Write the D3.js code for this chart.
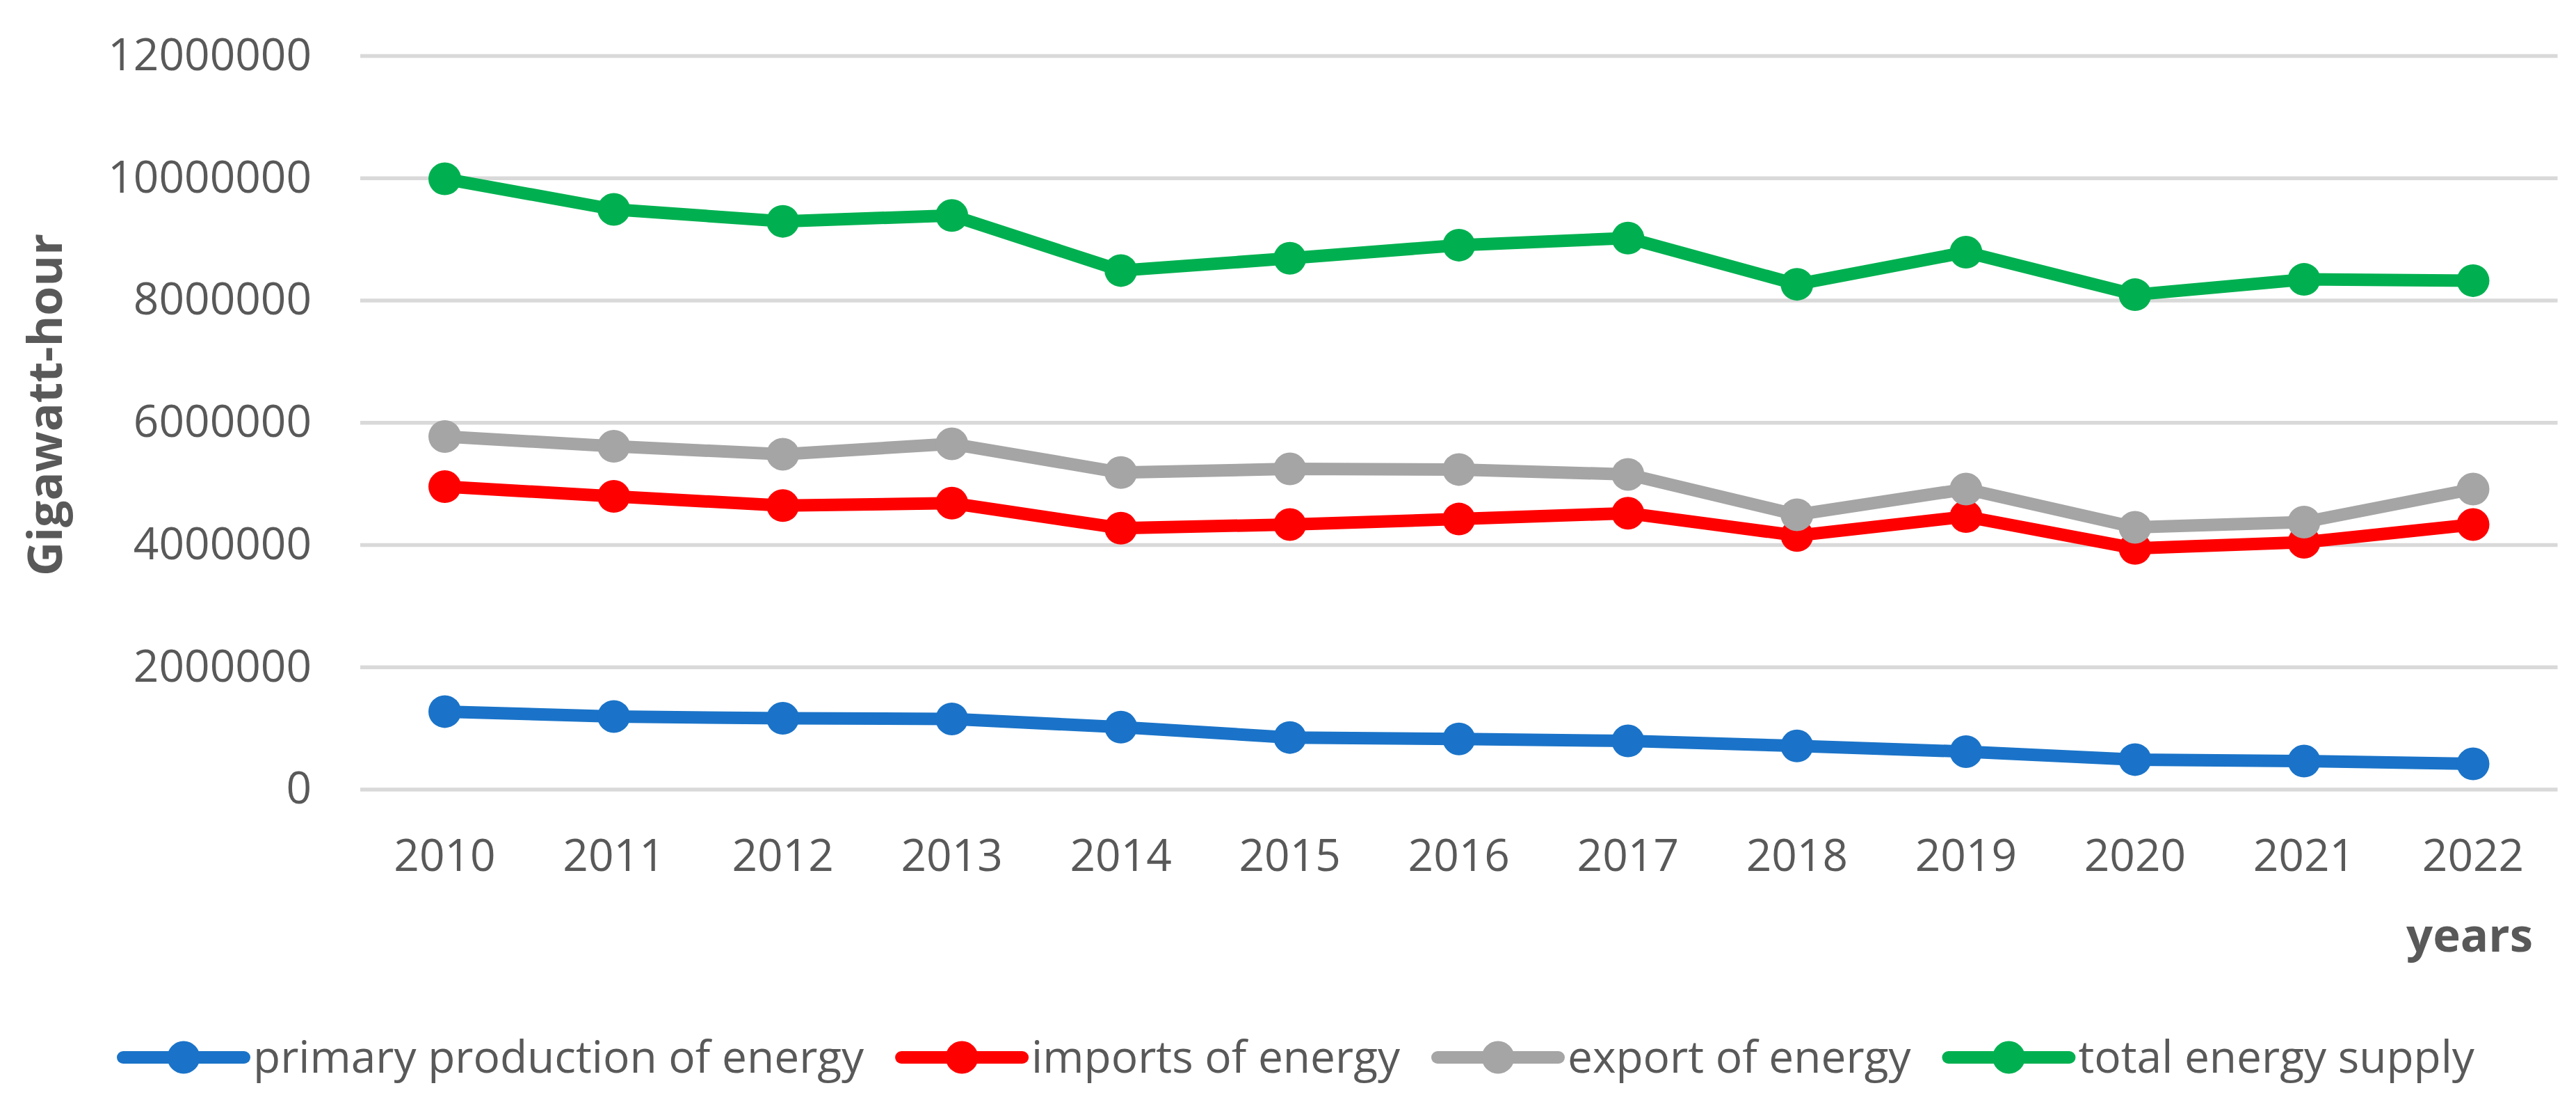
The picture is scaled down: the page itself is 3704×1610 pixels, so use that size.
<!DOCTYPE html>
<html>
<head>
<meta charset="utf-8">
<script src="https://cdn.jsdelivr.net/npm/d3@7"></script>
<style>
  body { margin: 0; background: white; }
  text { font-family: "Open Sans", "Noto Sans", sans-serif; fill: #595959; }
</style>
</head>
<body>
<div id="chart"></div>
<script>
// values
const years = ['2010','2011','2012','2013','2014','2015','2016','2017','2018','2019','2020','2021','2022'];
const primaryProduction = [1270000, 1190000, 1160000, 1150000, 1015000, 846000, 823000, 790000, 708000, 615000, 485000, 460000, 415000];
const importsOfEnergy = [4950000, 4790000, 4640000, 4680000, 4270000, 4330000, 4420000, 4515000, 4150000, 4460000, 3940000, 4040000, 4330000];
const exportOfEnergy = [5770000, 5610000, 5480000, 5650000, 5180000, 5240000, 5230000, 5150000, 4490000, 4910000, 4285000, 4370000, 4910000];
const totalSupply = [9985000, 9485000, 9290000, 9385000, 8485000, 8685000, 8900000, 9015000, 8260000, 8785000, 8090000, 8340000, 8320000];
const seriesNames = ['primary production of energy', 'imports of energy', 'export of energy', 'total energy supply'];
const seriesColors = ['#1a73c8', '#ff0000', '#a5a5a5', '#00b050'];
const yTicks = [0, 2000000, 4000000, 6000000, 8000000, 10000000, 12000000];

let dim = {'width': 3704, 'height': 1610};
let plot = {'left': 518, 'right': 3677.5, 'top': 80, 'bottom': 1134.5};

let svg = d3.select('#chart').append('svg')
    .attr('width', dim.width)
    .attr('height', dim.height)
    .style('background', 'white');

let x = d3.scaleBand().domain(years).range([plot.left, plot.right]).padding(0);
let y = d3.scaleLinear().domain([0, 12000000]).range([plot.bottom, plot.top]);
let cx = d => x(d) + x.bandwidth() / 2;

// y axis with gridlines
let yAxis = svg.append('g')
    .attr('transform', `translate(${plot.left},0)`)
    .call(d3.axisLeft(y).tickValues(yTicks).tickFormat(d3.format('d'))
        .tickSize(-(plot.right - plot.left)).tickPadding(70));
yAxis.select('.domain').remove();
yAxis.selectAll('line').attr('stroke', '#d9d9d9').attr('stroke-width', 5.5);
yAxis.selectAll('text').attr('font-size', 64).attr('fill', '#595959')
    .style('font-family', '"Open Sans", sans-serif');

// x axis labels
let xAxis = svg.append('g')
    .attr('transform', `translate(0,${plot.bottom})`)
    .call(d3.axisBottom(x).tickSize(0).tickPadding(72));
xAxis.select('.domain').remove();
xAxis.selectAll('text').attr('font-size', 64).attr('fill', '#595959')
    .style('font-family', '"Open Sans", sans-serif');

// series
let allSeries = [primaryProduction, importsOfEnergy, exportOfEnergy, totalSupply];
let line = d3.line().x((d, i) => cx(years[i])).y(d => y(d));

allSeries.forEach(function(values, s){
    let g = svg.append('g');
    g.append('path')
        .attr('d', line(values))
        .attr('fill', 'none')
        .attr('stroke', seriesColors[s])
        .attr('stroke-width', 18)
        .attr('stroke-linejoin', 'round');
    g.selectAll('circle')
        .data(values)
        .join('circle')
        .attr('cx', (d, i) => cx(years[i]))
        .attr('cy', d => y(d))
        .attr('r', 23.5)
        .attr('fill', seriesColors[s]);
});

// axis titles
svg.append('text')
    .attr('transform', 'translate(89,582) rotate(-90)')
    .attr('text-anchor', 'middle')
    .attr('font-size', 68)
    .attr('font-weight', 'bold')
    .text('Gigawatt-hour');

svg.append('text')
    .attr('x', 3642)
    .attr('y', 1368)
    .attr('text-anchor', 'end')
    .attr('font-size', 67)
    .attr('font-weight', 'bold')
    .text('years');

// legend
let legend = svg.append('g');
let lx = 177;
let ly = 1520;
seriesNames.forEach(function(name, s){
    let item = legend.append('g');
    item.append('line')
        .attr('x1', lx).attr('x2', lx + 174)
        .attr('y1', ly).attr('y2', ly)
        .attr('stroke', seriesColors[s])
        .attr('stroke-width', 18)
        .attr('stroke-linecap', 'round');
    item.append('circle')
        .attr('cx', lx + 87).attr('cy', ly).attr('r', 23.5)
        .attr('fill', seriesColors[s]);
    let t = item.append('text')
        .attr('x', lx + 187)
        .attr('y', ly)
        .attr('dy', '0.35em')
        .attr('font-size', 64)
        .text(name);
    lx = lx + 187 + t.node().getComputedTextLength() + 54;
});
</script>
</body>
</html>
